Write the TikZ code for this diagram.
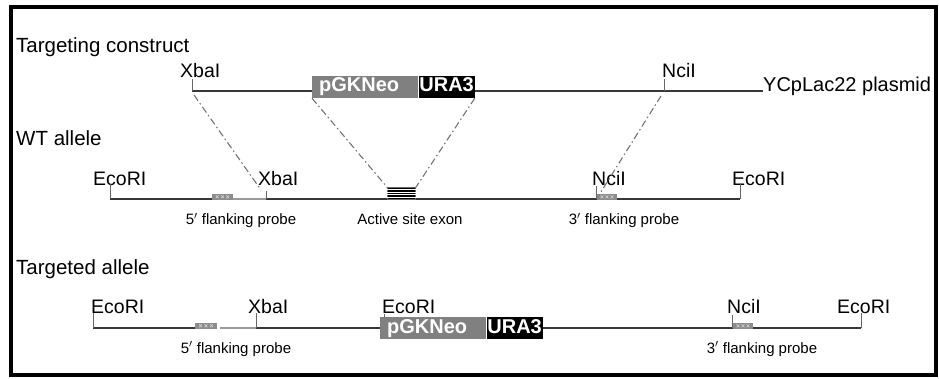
\documentclass[tikz,border=0pt]{standalone}
\usepackage{fontspec}
\setmainfont{Liberation Sans}
\newcommand\probebox[3]{% left x, right x, DNA line y
  \fill[black!45] (#1,#3-5) rectangle (#2,#3+1);
  \foreach \k in {1,2,3}{%
    \draw[black!15, line width=.5pt] ({#1+(#2-#1)*\k/4-1.5},#3-3.7) -- ++(3,3)
                                     ({#1+(#2-#1)*\k/4-1.5},#3-0.7) -- ++(3,-3);}
}
\begin{document}
\begin{tikzpicture}[x=1pt,y=-1pt,
  dna/.style={line width=1.5pt, draw=black!78},
  dnalight/.style={line width=1.5pt, draw=black!40},
  site/.style={line width=1pt, draw=black!60},
  homol/.style={line width=1.1pt, draw=black!55, dash pattern=on 7pt off 3pt on 1.5pt off 3pt},
  title/.style={font=\fontsize{20.5}{24}\selectfont, inner sep=0pt, anchor=base west},
  enz/.style={font=\fontsize{19.5}{23}\selectfont, inner sep=0pt, anchor=base west},
  small/.style={font=\fontsize{15}{18}\selectfont, inner sep=0pt, anchor=base},
  cass/.style={inner xsep=0pt, inner ysep=1.5pt, text height=14.5pt, text depth=4.5pt,
    font=\bfseries\fontsize{20}{23}\selectfont, text=white, anchor=west},
  neo/.style={cass, fill=black!50, text width=106pt, align=left, execute at begin node=\hspace*{7pt}},
  ura/.style={cass, fill=black, text width=56pt, align=center},
]
\useasboundingbox (0,0) rectangle (939,379);
% outer frame
\draw[line width=3.5pt] (11,7) rectangle (936,375);

% ---------------- targeting construct ----------------
\node[title] (t1) at (16,53) {Targeting construct};
\coordinate (c1x) at (192,91);
\coordinate (c1n) at (664,91);
\node[neo] (neo1) at (312,87) {pGKNeo};
\node[ura] (ura1) at (neo1.east) {URA3};
\node[enz] (lx1) at (180,78) {XbaI};
\node[enz] (ln1) at (662,78) {NciI};
\node[font=\fontsize{20}{24}\selectfont, inner sep=0pt, anchor=base west] (pl) at (763,92) {YCpLac22 plasmid};
\draw[dna] (c1x) -- (c1x -| neo1.west);
\draw[dna] (c1x -| ura1.east) -- (c1x -| pl.west);
\draw[site] (c1x) -- ++(0,-12);
\draw[site] (c1n) -- ++(0,-12);

% ---------------- WT allele ----------------
\node[title] (t2) at (16,146) {WT allele};
\coordinate (w1) at (110,199);
\coordinate (w2) at (740,199);
\coordinate (wx) at (266,199);
\coordinate (wn) at (596,199);
\node[enz] (le1) at (93,186) {EcoRI};
\node[enz] (lx2) at (258,186) {XbaI};
\node[enz] (ln2) at (592,186) {NciI};
\node[enz] (le2) at (732,186) {EcoRI};
\draw[dna] (w1) -- (212,199);
\draw[dnalight] (233,199) -- (wx);
\draw[dna] (wx) -- (w2);
\probebox{212}{233}{199}
\probebox{597}{617}{199}
\node[fill=black, draw=black!60, line width=.6pt, minimum width=28pt, minimum height=12pt,
      inner sep=0pt, anchor=south] (exon) at (401.5,200) {};
\foreach \d in {2.4,4.8,7.2,9.6}
  \draw[white, line width=.8pt] ([yshift=-\d pt]exon.north west) -- ([yshift=-\d pt]exon.north east);
\draw[site] (w1) -- ++(0,-15);
\draw[site] (w2) -- ++(0,-15);
\draw[site] (wx) -- ++(0,-8);
\draw[site] (wn) -- ++(0,-13);
\node[small] at (241,225) {5$'$ flanking probe};
\node[small] at (410,225) {Active site exon};
\node[small] at (624,225) {3$'$ flanking probe};

% homologous regions
\draw[homol] ([shift={(2,4)}]c1x) -- ([shift={(-5,-9)}]wx);
\draw[homol] (neo1.south west) -- (exon.north west);
\draw[homol] (ura1.south east) -- (exon.north east);
\draw[homol] ([shift={(-3,5)}]c1n) -- ([shift={(3,-4)}]wn);

% ---------------- targeted allele ----------------
\node[title] (t3) at (16,274) {Targeted allele};
\coordinate (a1) at (93,328);
\coordinate (ax) at (256,328);
\coordinate (an) at (732,328);
\coordinate (a2) at (861,328);
\node[neo] (neo2) at (380,328) {pGKNeo};
\node[ura] (ura2) at (neo2.east) {URA3};
\node[enz] (le3) at (91,313) {EcoRI};
\node[enz] (lx3) at (248,313) {XbaI};
\node[enz] (le4) at (382,313) {EcoRI};
\node[enz] (ln3) at (727,313) {NciI};
\node[enz] (le5) at (837,313) {EcoRI};
\draw[dna] (a1) -- (195,328);
\draw[dnalight] (220,328) -- (ax);
\draw[dna] (ax) -- (neo2.west);
\draw[dna] (ura2.east) -- (a2);
\probebox{195}{217}{328}
\probebox{733}{753}{328}
\draw[site] (a1) -- ++(0,-15);
\draw[site] (ax) -- ++(0,-15);
\draw[site] (an) -- ++(0,-13);
\draw[site] (a2) -- ++(0,-15);
\draw[site] (384,314) -- (neo2.north west -| 384,0);
\node[small] at (236,353) {5$'$ flanking probe};
\node[small] at (762,353) {3$'$ flanking probe};
\end{tikzpicture}
\end{document}
